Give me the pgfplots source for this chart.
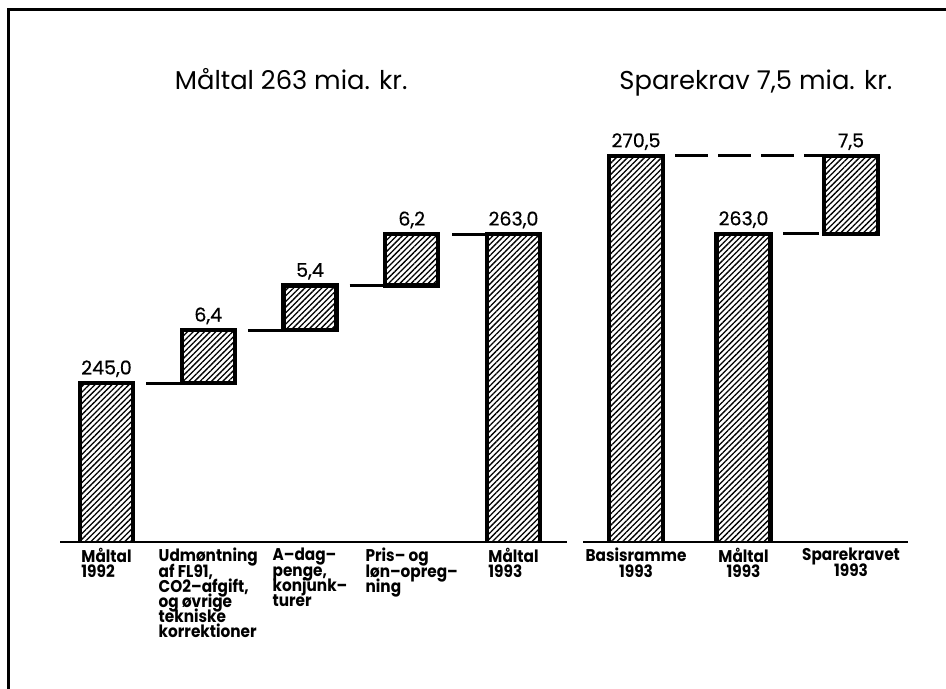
\documentclass[border=0pt]{standalone}
\usepackage{fontspec}
\setmainfont{Poppins}
\newfontfamily\labfont[FakeStretch=0.9, Ligatures=TeX]{Poppins}
\newfontfamily\valfont[FakeBold=0.6]{Poppins}
\usepackage{pgfplots}
\usepackage{pgfplotstable}
\pgfplotsset{compat=1.18}
\usetikzlibrary{patterns.meta}

\pgfplotstableread{
x base incr top
0 0     245 245
1 245   6.4 251.4
2 251.4 5.4 256.8
3 256.8 6.2 263
4 0     263 263
}\lefttab
\pgfplotstableread{
x base incr top
0 0   270.5 270.5
1 0   263   263
2 263 7.5   270.5
}\righttab

\pgfplotsset{
  numfmt/.style={
    /pgf/number format/use comma,
    /pgf/number format/fixed,
    /pgf/number format/fixed zerofill,
    /pgf/number format/precision=1,
    /pgf/number format/assume math mode=true,
  },
  wf/.style={
    scale only axis, height=201pt, anchor=south west,
    ybar stacked,
    axis x line*=bottom, axis y line=none,
    x axis line style={-, line width=0.8pt},
    xtick=data, major tick length=0pt,
    title style={anchor=base, yshift=19pt, font=\fontsize{12.9}{14}\selectfont},
  },
  ov/.style={scale only axis, height=201pt, anchor=south west, hide axis, clip=false, numfmt,
    every node near coord/.append style={font=\valfont\fontsize{9.5}{10}\selectfont, inner sep=0pt, yshift=2.8pt}},
  barstyle/.style={draw=black, line width=2.2pt, line join=miter,
    pattern={Lines[angle=45,distance=2pt,line width=0.65pt]}, pattern color=black},
  labstyle/.style={anchor=north, inner sep=0pt, yshift=-3pt,
    font=\labfont\bfseries\fontsize{8.5}{7.6}\selectfont},
}

\begin{document}
\lineskiplimit=-20pt
\lineskip=0pt
\begin{tikzpicture}
\useasboundingbox (0pt,0pt) rectangle (473pt,344.5pt);
\draw[line width=1.5pt] (4pt,0pt) -- (4pt,339.5pt) -- (473pt,339.5pt);

% ---------- left panel ----------
\begin{axis}[wf, at={(30pt,73.5pt)}, width=253.5pt,
  xmin=-0.457, xmax=4.526, ymin=225.8, ymax=274.4, bar width=26.5pt,
  title={Måltal 263 mia. kr.}, title style={at={(0.456,1)}},
  xticklabels={{Måltal\\1992},{Udmøntning\\af FL91,\\CO2--afgift,\\og øvrige\\tekniske\\korrektioner},{A--dag--\\penge,\\konjunk--\\turer},{Pris-- og\\løn--opreg--\\ning},{Måltal\\1993}},
  xticklabel style={labstyle, align=left},
]
\addplot[draw=none, fill=none] table[x=x, y=base] {\lefttab};
\addplot[barstyle] table[x=x, y=incr] {\lefttab};
\end{axis}
\begin{axis}[ov, at={(30pt,73.5pt)}, width=253.5pt,
  xmin=-0.457, xmax=4.526, ymin=225.8, ymax=274.4]
\addplot[line width=1.4pt] coordinates {(0.39,245) (0.73,245)};
\addplot[line width=1.4pt] coordinates {(1.39,251.4) (1.73,251.4)};
\addplot[line width=1.4pt] coordinates {(2.39,256.8) (2.74,256.8)};
\addplot[line width=1.4pt] coordinates {(3.40,263) (3.75,263)};
\addplot[draw=none, mark=none, nodes near coords, point meta=explicit]
  table[x=x, y=top, meta=incr] {\lefttab};
\end{axis}

% ---------- right panel ----------
\begin{axis}[wf, at={(291.5pt,73.5pt)}, width=162.5pt,
  xmin=-0.493, xmax=2.53, ymin=233.385, ymax=272.04, bar width=27pt,
  title={Sparekrav 7,5 mia. kr.}, title style={at={(0.532,1)}},
  xticklabels={{Basisramme\\1993},{Måltal\\1993},{Sparekravet\\1993}},
  xticklabel style={labstyle, align=center},
]
\addplot[draw=none, fill=none] table[x=x, y=base] {\righttab};
\addplot[barstyle] table[x=x, y=incr] {\righttab};
\end{axis}
\begin{axis}[ov, at={(291.5pt,73.5pt)}, width=162.5pt,
  xmin=-0.493, xmax=2.53, ymin=233.385, ymax=272.04]
\addplot[line width=1.5pt, dash pattern=on 16.5pt off 5pt] coordinates {(0.363,270.5) (1.74,270.5)};
\addplot[line width=1.5pt] coordinates {(1.37,263) (1.70,263)};
\addplot[draw=none, mark=none, nodes near coords, point meta=explicit]
  table[x=x, y=top, meta=incr] {\righttab};
\end{axis}
\end{tikzpicture}
\end{document}
